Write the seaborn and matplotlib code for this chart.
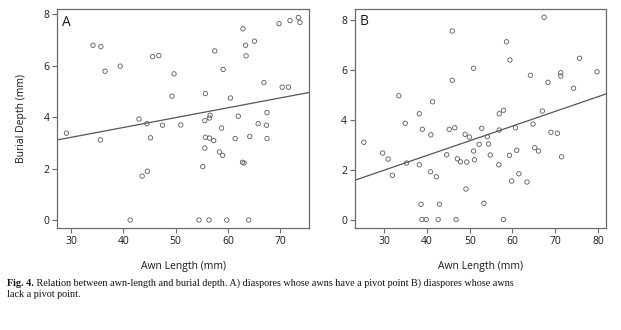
import matplotlib
matplotlib.use("Agg")
import matplotlib.pyplot as plt
import seaborn as sns
import numpy as np
import pandas as pd

# Panel A: diaspores whose awns have a pivot point
awn_a = [29.1, 34.2, 35.7, 36.5, 39.4, 35.6, 41.3, 43.0, 43.6, 44.5, 44.6, 45.2, 45.6, 46.8,
         47.5, 49.3, 49.7, 51.0, 54.5, 55.2, 55.6, 55.6, 55.7, 55.7, 56.4, 56.5, 56.5, 56.6,
         57.3, 57.5, 58.4, 58.8, 59.0, 59.1, 59.8, 60.5, 61.4, 62.0, 62.8, 62.9, 63.1, 63.4,
         63.5, 64.0, 64.2, 65.1, 65.8, 66.9, 67.4, 67.5, 67.5, 69.8, 70.4, 71.6, 71.9, 73.5, 73.8]
depth_a = [3.38, 6.80, 6.75, 5.79, 5.99, 3.12, 0.00, 3.93, 1.71, 3.75, 1.90, 3.20, 6.36, 6.40,
           3.69, 4.82, 5.69, 3.70, 0.00, 2.08, 2.80, 3.87, 3.22, 4.92, 0.00, 3.19, 3.97, 4.08,
           3.09, 6.58, 2.65, 3.58, 2.52, 5.86, 0.00, 4.75, 3.17, 4.04, 2.25, 7.44, 2.22, 6.80,
           6.39, 0.00, 3.25, 6.96, 3.75, 5.35, 3.69, 4.18, 3.17, 7.64, 5.17, 5.17, 7.76, 7.88, 7.69]
# fitted line as printed (intercept, slope)
fit_a = [2.07, 0.0383]

# Panel B: diaspores whose awns lack a pivot point
awn_b = [25.2, 29.6, 30.9, 31.9, 33.4, 34.9, 35.2, 38.2, 38.2, 38.6, 38.8, 38.9, 39.8, 40.8,
         40.9, 41.3, 42.2, 42.6, 42.9, 44.6, 45.2, 45.9, 45.9, 46.5, 46.8, 47.1, 47.8, 48.9,
         49.1, 49.3, 49.9, 50.9, 50.9, 51.1, 52.2, 52.8, 53.3, 54.1, 54.4, 54.8, 56.8, 56.9,
         56.9, 57.9, 57.9, 58.6, 59.3, 59.4, 59.8, 60.7, 61.0, 61.5, 63.4, 64.2, 64.8, 65.2,
         66.1, 67.0, 67.4, 68.3, 69.0, 70.5, 71.3, 71.3, 71.5, 74.3, 75.7, 79.8]
depth_b = [3.09, 2.66, 2.42, 1.77, 4.95, 3.85, 2.26, 4.23, 2.19, 0.61, 0.00, 3.61, 0.00, 1.91,
           3.39, 4.71, 1.71, 0.00, 0.61, 2.59, 3.61, 7.54, 5.57, 3.67, 0.00, 2.43, 2.31, 3.41,
           1.22, 2.30, 3.30, 6.05, 2.74, 2.39, 3.01, 3.65, 0.65, 3.31, 3.02, 2.58, 2.19, 4.23,
           3.58, 4.37, 0.00, 7.11, 2.57, 6.38, 1.54, 3.67, 2.77, 1.83, 1.50, 5.77, 3.82, 2.87,
           2.74, 4.34, 8.09, 5.49, 3.49, 3.45, 5.87, 5.74, 2.51, 5.25, 6.45, 5.91]
fit_b = [0.216, 0.0587]

xticks_a = [30, 40, 50, 60, 70]
xticks_b = [30, 40, 50, 60, 70, 80]
yticks = [0, 2, 4, 6, 8]

caption_bold = "Fig. 4."
caption_line1 = " Relation between awn-length and burial depth. A) diaspores whose awns have a pivot point B) diaspores whose awns"
caption_line2 = "lack a pivot point."

sns.set_style("white")
plt.rcParams['font.family'] = ['Open Sans', 'DejaVu Sans']

fig = plt.figure(figsize=(6.21, 3.30), dpi=100)
axA = fig.add_axes([0.0918, 0.3082, 0.4063, 0.6636])
axB = fig.add_axes([0.5712, 0.3082, 0.4047, 0.6645])

dfA = pd.DataFrame({"awn": awn_a, "depth": depth_a})
dfB = pd.DataFrame({"awn": awn_b, "depth": depth_b})

spine_col = "#6a6a6a"
pt_col = "#5a5a5a"
line_col = "#555555"
txt_col = "#1a1a1a"

def panel(ax, df, fit, xlim, ylim, xticks, letter):
    sns.scatterplot(data=df, x="awn", y="depth", ax=ax, s=10, marker="o",
                    facecolors="none", edgecolor=pt_col, linewidth=0.6)
    ax.axline((0, fit[0]), slope=fit[1], color=line_col, lw=0.9)
    ax.set_xlim(*xlim)
    ax.set_ylim(*ylim)
    ax.set_xticks(xticks)
    ax.set_yticks(yticks)
    ax.set_xlabel("Awn Length (mm)", fontsize=7.5, color=txt_col, labelpad=10)
    ax.set_ylabel("")
    for s in ax.spines.values():
        s.set_color(spine_col)
        s.set_linewidth(0.9)
    ax.tick_params(axis="both", which="major", direction="out", length=3.5, width=0.8,
                   color=spine_col, labelsize=7.5, labelcolor=txt_col, pad=2,
                   bottom=True, left=True, top=False, right=False)
    ax.text(0.02, 0.975, letter, transform=ax.transAxes, fontsize=10, ha="left", va="top",
            color=txt_col)

panel(axA, dfA, fit_a, (27.3, 75.6), (-0.32, 8.2), xticks_a, "A")
panel(axB, dfB, fit_b, (23.07, 81.9), (-0.35, 8.42), xticks_b, "B")
axA.set_ylabel("Burial Depth (mm)", fontsize=7.5, color=txt_col, labelpad=12)

cap_fs = 7.3
x0 = 0.011
tb = fig.text(x0, 0.134, caption_bold, fontsize=cap_fs, family="Liberation Serif", weight="bold",
              ha="left", va="baseline", color="#111111")
renderer = fig.canvas.get_renderer()
bw = tb.get_window_extent(renderer=renderer).width / fig.bbox.width
fig.text(x0 + bw, 0.134, caption_line1, fontsize=cap_fs, family="Liberation Serif",
         ha="left", va="baseline", color="#111111")
fig.text(x0, 0.099, caption_line2, fontsize=cap_fs, family="Liberation Serif",
         ha="left", va="baseline", color="#111111")

fig.savefig("out.png", dpi=100, facecolor="white")
